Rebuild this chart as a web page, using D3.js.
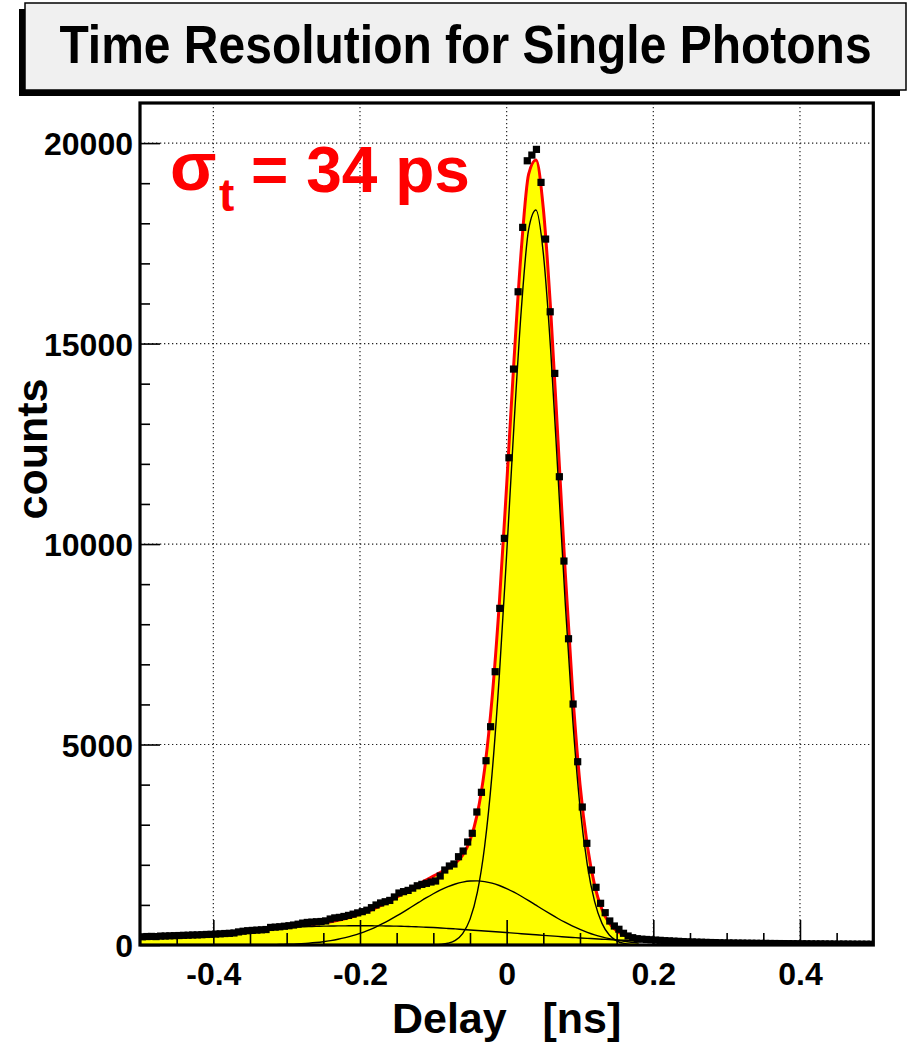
<!DOCTYPE html>
<html>
<head>
<meta charset="utf-8">
<script src="https://cdn.jsdelivr.net/npm/d3@7"></script>
<style>
  body { margin: 0; background: #fff; }
  svg { display: block; }
  text { font-family: "Liberation Sans", Arial, Helvetica, sans-serif; font-weight: bold; }
</style>
</head>
<body>
<svg id="chart" width="918" height="1050"></svg>
<script>
// ---- data ----
const title = "Time Resolution for Single Photons";
const xLabel = "Delay   [ns]";
const yLabel = "counts";
const xTickValues = [-0.4, -0.2, 0, 0.2, 0.4];
const yTickValues = [0, 5000, 10000, 15000, 20000];

// histogram: 160 bins from -0.5 to 0.5 ns
const binLow = -0.5;
const binWidth = 0.00625;
const counts = [
  205, 211, 214, 210, 222, 224, 229, 233, 236, 241,
  244, 250, 252, 257, 263, 266, 273, 279, 286, 291,
  300, 326, 343, 356, 364, 371, 379, 386, 438, 446,
  455, 468, 481, 498, 519, 546, 563, 571, 579, 586,
  601, 648, 676, 689, 712, 738, 769, 801, 832, 868,
  931, 998, 1048, 1079, 1112, 1198, 1296, 1331, 1362, 1418,
  1477, 1512, 1538, 1571, 1596, 1721, 1870, 1970, 2020, 2202,
  2344, 2569, 2786, 3317, 3808, 4596, 5444, 6816, 8396, 10142,
  12152, 14364, 16292, 17898, 19559, 19701, 19843, 19020, 17606, 15793,
  14256, 11679, 9576, 7638, 6010, 4571, 3441, 2536, 1870, 1439,
  1040, 806, 599, 474, 392, 292, 224, 182, 157, 145,
  138, 131, 122, 116, 108, 103, 96, 91, 85, 80,
  77, 72, 69, 65, 62, 60, 56, 54, 52, 50,
  48, 47, 45, 44, 42, 41, 40, 38, 37, 36,
  35, 34, 33, 32, 31, 30, 29, 28, 28, 27,
  26, 25, 24, 24, 23, 22, 21, 21, 20, 19
];

// fit components sampled every 0.01 ns from -0.50 to 0.18 ns
const fitStart = -0.5;
const fitStep = 0.01;
const fitNarrow = [
  0, 0, 0, 0, 0, 0, 0, 0, 0, 0,
  0, 0, 0, 0, 0, 0, 0, 0, 0, 0,
  0, 0, 0, 0, 0, 0, 0, 0, 0, 0,
  0, 0, 0, 0, 0, 0, 0, 0, 0, 1,
  5, 15, 44, 117, 286, 639, 1310, 2463, 4248, 6719,
  9747, 12966, 15850, 17850, 18330, 17250, 14850, 11720, 8500, 5651,
  3451, 2000, 1080, 540, 250, 105, 40, 14, 5
];
const fitMedium = [
  0, 0, 0, 0, 0, 0, 0, 0, 0, 0,
  0, 0, 1, 1, 2, 2, 4, 5, 8, 12,
  17, 23, 33, 45, 61, 82, 109, 142, 183, 232,
  291, 359, 436, 524, 620, 724, 834, 948, 1061, 1173,
  1278, 1373, 1455, 1521, 1568, 1595, 1599, 1581, 1543, 1484,
  1408, 1317, 1216, 1107, 993, 879, 768, 661, 562, 470,
  389, 317, 254, 202, 158, 121, 92, 69, 51
];
const fitBroad = [
  200, 206, 212, 218, 225, 232, 240, 248, 256, 263,
  270, 283, 296, 310, 330, 350, 370, 390, 408, 425,
  440, 447, 454, 460, 465, 470, 473, 476, 478, 479,
  480, 480, 478, 476, 473, 470, 465, 459, 452, 444,
  435, 424, 413, 401, 388, 375, 362, 349, 336, 323,
  310, 296, 282, 268, 254, 240, 227, 214, 201, 188,
  175, 165, 155, 145, 135, 125, 117, 109, 101
];

// ---- layout ----
const svg = d3.select("#chart");
const frame = { left: 140, right: 873.3, top: 103, bottom: 945 };

const x = d3.scaleLinear().domain([-0.5, 0.5]).range([frame.left, frame.right]);
const y = d3.scaleLinear().domain([0, 21000]).range([frame.bottom, frame.top]);

// ---- title box with drop shadow ----
const box = { x: 25, y: 3, w: 881, h: 87 };
svg.append("rect")
  .attr("x", box.x - 6).attr("y", box.y + 6)
  .attr("width", box.w).attr("height", box.h)
  .attr("fill", "#000");
svg.append("rect")
  .attr("x", box.x).attr("y", box.y)
  .attr("width", box.w).attr("height", box.h)
  .attr("fill", "#f0f0f0").attr("stroke", "#000").attr("stroke-width", 1.5);
svg.append("text")
  .attr("transform", `translate(${box.x + box.w / 2},63) scale(1,1.1)`)
  .attr("text-anchor", "middle")
  .attr("font-size", 48)
  .attr("fill", "#000")
  .text(title);

// ---- plot area ----
svg.append("defs").append("clipPath").attr("id", "plotClip")
  .append("rect")
  .attr("x", frame.left).attr("y", frame.top)
  .attr("width", frame.right - frame.left).attr("height", frame.bottom - frame.top);

const plot = svg.append("g").attr("clip-path", "url(#plotClip)");

// dotted grid
plot.append("g").selectAll("line").data(xTickValues).join("line")
  .attr("x1", d => x(d)).attr("x2", d => x(d))
  .attr("y1", frame.top).attr("y2", frame.bottom)
  .attr("stroke", "#222").attr("stroke-width", 1.2).attr("stroke-dasharray", "1.3,2.7");
plot.append("g").selectAll("line").data(yTickValues.filter(d => d > 0)).join("line")
  .attr("x1", frame.left).attr("x2", frame.right)
  .attr("y1", d => y(d)).attr("y2", d => y(d))
  .attr("stroke", "#222").attr("stroke-width", 1.2).attr("stroke-dasharray", "1.3,2.7");

// fit curves
const fitPoints = (arr) => arr.map((v, i) => ({ x: fitStart + i * fitStep, v: v }));
const totalValues = fitNarrow.map((v, i) => v + fitMedium[i] + fitBroad[i]);

const curve = d3.curveMonotoneX;
const lineGen = d3.line().x(d => x(d.x)).y(d => y(d.v)).curve(curve);
const areaGen = d3.area().x(d => x(d.x)).y0(y(0)).y1(d => y(d.v)).curve(curve);

plot.append("path")
  .datum(fitPoints(totalValues))
  .attr("d", areaGen)
  .attr("fill", "#ffff00");

plot.append("path")
  .datum(fitPoints(totalValues))
  .attr("d", lineGen)
  .attr("fill", "none").attr("stroke", "#ff0000").attr("stroke-width", 3);

[fitNarrow, fitMedium, fitBroad].forEach(arr => {
  plot.append("path")
    .datum(fitPoints(arr))
    .attr("d", lineGen)
    .attr("fill", "none").attr("stroke", "#000").attr("stroke-width", 1.4);
});

// data markers
const ms = 7.2;
plot.append("g").selectAll("rect")
  .data(counts.map((c, i) => ({ x: binLow + (i + 0.5) * binWidth, c: c })))
  .join("rect")
  .attr("x", d => x(d.x) - ms / 2)
  .attr("y", d => y(d.c) - ms / 2)
  .attr("width", ms).attr("height", ms)
  .attr("fill", "#000");

// ---- axes ----
const xMinor = d3.range(-0.45, 0.5, 0.05).filter(v => !xTickValues.some(t => Math.abs(t - v) < 1e-6));
const yMinor = d3.range(1000, 21000, 1000).filter(v => v % 5000 !== 0);

const xAxisMinor = svg.append("g").attr("transform", `translate(0,${frame.bottom})`)
  .call(d3.axisBottom(x).tickValues(xMinor).tickSize(-12).tickFormat(""));
const xAxis = svg.append("g").attr("transform", `translate(0,${frame.bottom})`)
  .call(d3.axisBottom(x).tickValues(xTickValues).tickSize(-25).tickFormat(d => String(d)));
const yAxisMinor = svg.append("g").attr("transform", `translate(${frame.left},0)`)
  .call(d3.axisLeft(y).tickValues(yMinor).tickSize(-10).tickFormat(""));
const yAxis = svg.append("g").attr("transform", `translate(${frame.left},0)`)
  .call(d3.axisLeft(y).tickValues(yTickValues).tickSize(-20).tickFormat(d => String(d)));

[xAxisMinor, xAxis, yAxisMinor, yAxis].forEach(g => {
  g.select(".domain").remove();
  g.selectAll(".tick line").attr("stroke", "#000").attr("stroke-width", 1.6);
});

xAxis.selectAll(".tick text")
  .attr("y", 40).attr("dy", null)
  .attr("font-size", 32).attr("font-family", "Liberation Sans, Arial, sans-serif")
  .attr("font-weight", "bold").attr("fill", "#000");
yAxis.selectAll(".tick text")
  .attr("x", -7).attr("dy", "0.36em")
  .attr("font-size", 32).attr("font-family", "Liberation Sans, Arial, sans-serif")
  .attr("font-weight", "bold").attr("fill", "#000");

// frame
svg.append("rect")
  .attr("x", frame.left).attr("y", frame.top)
  .attr("width", frame.right - frame.left).attr("height", frame.bottom - frame.top)
  .attr("fill", "none").attr("stroke", "#000").attr("stroke-width", 3.2);

// ---- axis titles ----
svg.append("text")
  .attr("x", (frame.left + frame.right) / 2).attr("y", 1033)
  .attr("text-anchor", "middle")
  .attr("font-size", 43)
  .style("white-space", "pre")
  .attr("fill", "#000")
  .text(xLabel);

svg.append("text")
  .attr("transform", "translate(47,449) rotate(-90)")
  .attr("text-anchor", "middle")
  .attr("font-size", 43)
  .attr("fill", "#000")
  .text(yLabel);

// ---- resolution annotation ----
const note = svg.append("g").attr("fill", "#ff0000");
note.append("text")
  .attr("x", 170).attr("y", 190)
  .attr("font-family", "Liberation Serif, Times New Roman, serif")
  .attr("font-weight", "normal")
  .attr("font-size", 68)
  .text("σ");
note.append("text")
  .attr("x", 219).attr("y", 211)
  .attr("font-size", 46)
  .text("t");
note.append("text")
  .attr("x", 251).attr("y", 192)
  .attr("font-size", 64)
  .style("white-space", "pre")
  .text("= 34 ps");
</script>
</body>
</html>
